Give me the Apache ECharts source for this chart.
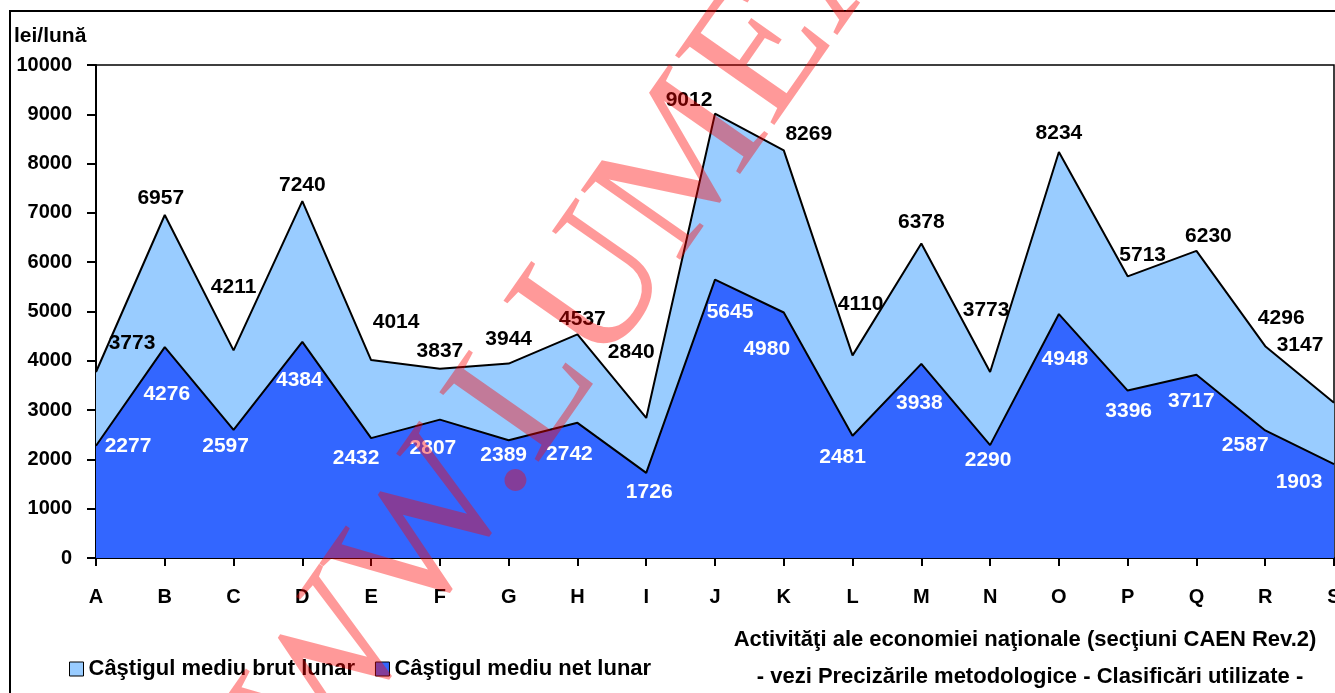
<!DOCTYPE html>
<html>
<head>
<meta charset="utf-8">
<script src="https://cdn.jsdelivr.net/npm/echarts@6/dist/echarts.min.js"></script>
<style>
  html, body { margin: 0; padding: 0; background: #fff; }
  #chart { width: 1335px; height: 693px; }
</style>
</head>
<body>
<div id="chart"></div>
<script>
// sectiuni CAEN
var sectiuni = ["A", "B", "C", "D", "E", "F", "G", "H", "I", "J", "K", "L", "M", "N", "O", "P", "Q", "R", "S"];
// castigul mediu brut / net (lei/luna)
var brut = [3773, 6957, 4211, 7240, 4014, 3837, 3944, 4537, 2840, 9012, 8269, 4110, 6378, 3773, 8234, 5713, 6230, 4296, 3147];
var net = [2277, 4276, 2597, 4384, 2432, 2807, 2389, 2742, 1726, 5645, 4980, 2481, 3938, 2290, 4948, 3396, 3717, 2587, 1903];
var yTicks = [0, 10000, 1000]; // min, max, interval

// mici deplasari ale etichetelor, ca in original
var brutShift = [[36, -13], [-4, -1], [0, -48], [0, 0], [25, -22], [0, -2], [0, -9], [5, 0], [-15, -50], [-26, 2],
  [25, -1], [8, -36], [0, -6], [-4, -46], [0, -3], [15, -6], [12, 1], [16, -12], [-34, -42]];
var netShift = [[32, -15], [2, 31], [-8, 1], [-3, 23], [-15, 5], [-7, 13], [-5, -1], [-8, 16], [3, 4], [15, 17],
  [-17, 21], [-10, 6], [-2, 24], [-2, 0], [6, 30], [1, 5], [-5, 11], [-20, -1], [-35, 2]];

var FONT = "Liberation Sans, Arial, sans-serif";

var chart = echarts.init(document.getElementById("chart"));

function withShift(vals, shifts) {
  return vals.map(function(v, i) {
    return { value: v, label: { offset: shifts[i] } };
  });
}

function plain(p) {
  return String(p.value);
}

chart.setOption({
  animation: false,
  backgroundColor: "#fff",
  textStyle: { fontFamily: FONT },
  grid: {
    left: 96,
    right: 1,
    top: 65,
    bottom: 135,
    containLabel: false,
    outerBoundsMode: "none",
    show: true,
    borderColor: "#000",
    borderWidth: 1.5,
    backgroundColor: "transparent"
  },
  legend: {
    left: 69,
    top: 658,
    padding: 0,
    itemWidth: 14,
    itemHeight: 14,
    itemGap: 20,
    icon: "rect",
    itemStyle: { borderColor: "#000", borderWidth: 1 },
    textStyle: { fontFamily: FONT, fontWeight: "bold", fontSize: 22, color: "#000" },
    data: ["Câştigul mediu brut lunar", "Câştigul mediu net lunar"]
  },
  xAxis: {
    type: "category",
    data: sectiuni,
    boundaryGap: false,
    axisLine: { show: true, lineStyle: { color: "#000", width: 2 } },
    axisTick: { show: true, length: 8, lineStyle: { color: "#000", width: 2 } },
    axisLabel: { margin: 29, color: "#000", fontWeight: "bold", fontSize: 20, fontFamily: FONT },
    splitLine: { show: false }
  },
  yAxis: {
    type: "value",
    min: yTicks[0],
    max: yTicks[1],
    interval: yTicks[2],
    axisLine: { show: true, lineStyle: { color: "#000", width: 2 } },
    axisTick: { show: true, length: 9, lineStyle: { color: "#000", width: 2 } },
    axisLabel: {
      margin: 24, color: "#000", fontWeight: "bold", fontSize: 20, fontFamily: FONT,
      formatter: function(v) { return String(v); }
    },
    splitLine: { show: false }
  },
  series: [
    {
      name: "Câştigul mediu brut lunar",
      type: "line",
      data: withShift(brut, brutShift),
      symbol: "circle",
      symbolSize: 0.1,
      showSymbol: true,
      lineStyle: { color: "#000", width: 2 },
      itemStyle: { color: "#99CCFF" },
      areaStyle: { color: "#99CCFF", opacity: 1 },
      label: {
        show: true,
        position: "top",
        distance: 5,
        color: "#000",
        fontWeight: "bold",
        fontSize: 21,
        fontFamily: FONT,
        formatter: plain
      },
      z: 2
    },
    {
      name: "Câştigul mediu net lunar",
      type: "line",
      data: withShift(net, netShift),
      symbol: "circle",
      symbolSize: 0.1,
      showSymbol: true,
      lineStyle: { color: "#000", width: 2 },
      itemStyle: { color: "#3366FF" },
      areaStyle: { color: "#3366FF", opacity: 1 },
      label: {
        show: true,
        position: "bottom",
        distance: 5,
        color: "#fff",
        fontWeight: "bold",
        fontSize: 21,
        fontFamily: FONT,
        formatter: plain
      },
      z: 3
    }
  ],
  graphic: [
    {
      type: "rect",
      shape: { x: 10, y: 11, width: 1400, height: 800 },
      style: { fill: "none", stroke: "#000", lineWidth: 2 },
      silent: true
    },
    {
      type: "text",
      left: 14,
      top: 26,
      style: { text: "lei/lună", fill: "#000", font: "bold 21px " + FONT }
    },
    {
      type: "text",
      x: 1025,
      y: 640,
      style: {
        text: "Activităţi ale economiei naţionale (secţiuni CAEN Rev.2)",
        fill: "#000",
        font: "bold 22px " + FONT,
        textAlign: "center",
        textVerticalAlign: "middle"
      }
    },
    {
      type: "text",
      x: 1030,
      y: 677,
      style: {
        text: "- vezi Precizările metodologice - Clasificări utilizate -",
        fill: "#000",
        font: "bold 22px " + FONT,
        textAlign: "center",
        textVerticalAlign: "middle"
      }
    },
    // filigran
    {
      type: "text",
      x: 420,
      y: 385,
      rotation: 55 * Math.PI / 180,
      z: 100,
      silent: true,
      style: {
        text: "WWW.",
        fill: "rgba(255,0,0,0.4)",
        font: "185px Liberation Serif, serif",
        textAlign: "right"
      }
    },
    {
      type: "text",
      x: 420,
      y: 385,
      rotation: 55 * Math.PI / 180,
      z: 100,
      silent: true,
      style: {
        text: "LUMEA",
        fill: "rgba(255,0,0,0.4)",
        font: "185px Liberation Serif, serif",
        textAlign: "left"
      }
    }
  ]
});
</script>
</body>
</html>
